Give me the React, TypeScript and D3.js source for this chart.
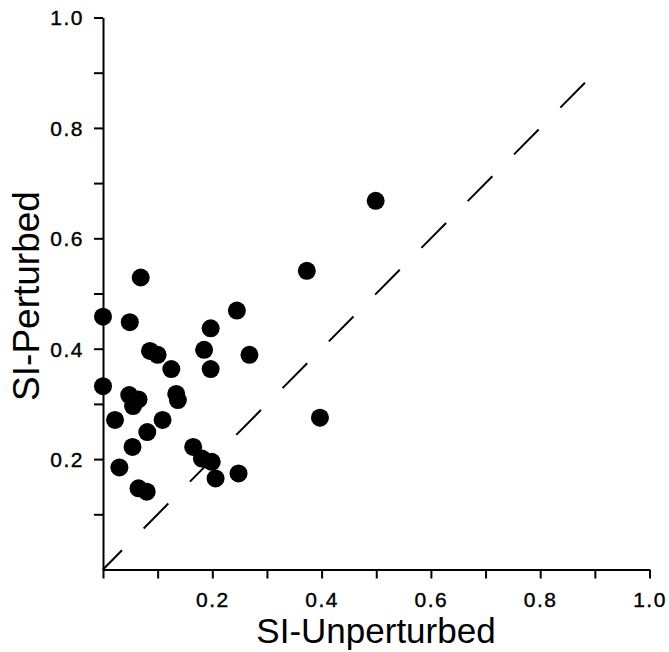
import React, { useEffect, useRef } from "react";
import * as d3 from "d3";

// SI values
const unperturbed = [
  0.499, 0.373, 0.397, 0.069, 0.0, 0.049, 0.245, 0.197, 0.086, 0.1, 0.185,
  0.268, 0.125, 0.197, 0.0, 0.048, 0.065, 0.055, 0.134, 0.137, 0.022, 0.109,
  0.081, 0.054, 0.165, 0.181, 0.199, 0.206, 0.248, 0.03, 0.065, 0.08,
];
const perturbed = [
  0.668, 0.541, 0.275, 0.529, 0.458, 0.448, 0.469, 0.437, 0.396, 0.389, 0.398,
  0.389, 0.363, 0.363, 0.332, 0.316, 0.308, 0.296, 0.318, 0.307, 0.271, 0.271,
  0.249, 0.222, 0.222, 0.201, 0.195, 0.165, 0.174, 0.185, 0.147, 0.141,
];
const tickValues = [0, 0.1, 0.2, 0.3, 0.4, 0.5, 0.6, 0.7, 0.8, 0.9, 1.0];
const labelValues = [0.2, 0.4, 0.6, 0.8, 1.0];
const diagonal = [0, 0.885];

const App = () => {
  const svgRef = useRef<SVGSVGElement>(null);

  useEffect(() => {
    const width = 669, height = 652;
    const left = 103, right = 649.5, top = 17.5, bottom = 569.5;
    const font = "'Liberation Sans', Arial, Helvetica, sans-serif";

    const x = d3.scaleLinear().domain([0, 1]).range([left, right]);
    const y = d3.scaleLinear().domain([0, 1]).range([bottom, top]);

    const fmt = (d: d3.NumberValue) =>
      labelValues.some(v => Math.abs(v - +d) < 1e-6) ? d3.format(".1f")(+d) : "";

    const svg = d3.select(svgRef.current)
      .attr("width", width)
      .attr("height", height)
      .style("background", "#fff");
    svg.selectAll("*").remove();

    // x axis
    const xAxis = svg.append("g")
      .attr("transform", `translate(0, ${bottom})`)
      .call(d3.axisBottom(x).tickValues(tickValues).tickSize(9).tickSizeOuter(0).tickFormat(fmt));
    xAxis.attr("font-size", null).attr("font-family", null);
    xAxis.select(".domain").attr("stroke-width", 2);
    xAxis.selectAll(".tick line").attr("stroke-width", 2);
    xAxis.selectAll(".tick text")
      .style("font-family", font)
      .style("font-size", "21px")
      .style("letter-spacing", "1.5px")
      .attr("stroke", "#000")
      .attr("stroke-width", 0.4)
      .attr("dy", null)
      .attr("y", 37);

    // y axis
    const yAxis = svg.append("g")
      .attr("transform", `translate(${left}, 0)`)
      .call(d3.axisLeft(y).tickValues(tickValues.slice(1)).tickSize(9).tickSizeOuter(0).tickFormat(fmt));
    yAxis.attr("font-size", null).attr("font-family", null);
    yAxis.select(".domain").attr("stroke-width", 2);
    yAxis.selectAll(".tick line").attr("stroke-width", 2);
    yAxis.selectAll(".tick text")
      .style("font-family", font)
      .style("font-size", "21px")
      .style("letter-spacing", "1.5px")
      .attr("stroke", "#000")
      .attr("stroke-width", 0.4)
      .attr("dy", "0.35em")
      .attr("x", -19);

    // identity line
    svg.append("line")
      .attr("x1", x(diagonal[0]))
      .attr("y1", y(diagonal[0]))
      .attr("x2", x(diagonal[1]))
      .attr("y2", y(diagonal[1]))
      .attr("stroke", "#000")
      .attr("stroke-width", 2)
      .attr("stroke-dasharray", "35 30.8")
      .attr("stroke-dashoffset", 8);

    // points
    svg.selectAll("circle")
      .data(unperturbed.map((u, i) => [u, perturbed[i]]))
      .enter().append("circle")
      .attr("cx", d => x(d[0]))
      .attr("cy", d => y(d[1]))
      .attr("r", 9)
      .attr("fill", "#000");

    svg.append("text")
      .attr("x", 376)
      .attr("y", 643)
      .attr("text-anchor", "middle")
      .style("font-family", font)
      .style("font-size", "35px")
      .text("SI-Unperturbed");

    svg.append("text")
      .attr("transform", "rotate(-90)")
      .attr("x", -296)
      .attr("y", 39)
      .attr("text-anchor", "middle")
      .style("font-family", font)
      .style("font-size", "37px")
      .text("SI-Perturbed");
  }, []);

  return (
    <svg ref={svgRef} style={{ position: "absolute", left: 0, top: 0 }}></svg>
  );
};

export default App;
